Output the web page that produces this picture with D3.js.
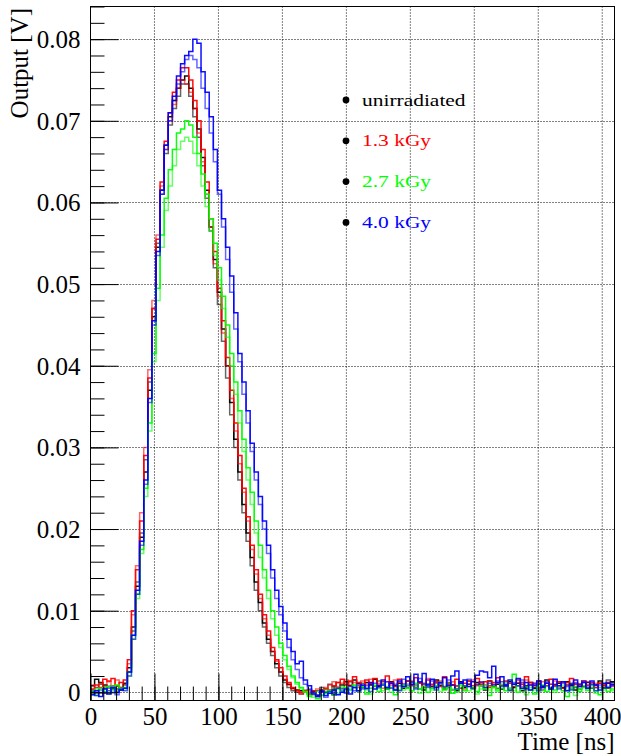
<!DOCTYPE html>
<html>
<head>
<meta charset="utf-8">
<script src="https://cdn.jsdelivr.net/npm/d3@7/dist/d3.min.js"></script>
<style>
  body { margin: 0; background: #fff; }
  svg { display: block; }
  text { font-family: "Liberation Serif", "Times New Roman", serif; fill: #000; }
</style>
</head>
<body>
<svg id="chart" width="621" height="756"></svg>
<script>
// bin width in ns, values in mV (two waveforms per dose)
var binWidth = 3.2;

var unirrA = [0.8, 1.6, 1.2, 0.9, 0.7, 0.4, 0.8, 0.3, 1.1,
  3.0, 8.0, 13.0, 19.0, 27.0, 37.0, 46.0, 54.5, 61.5, 67.0, 70.5, 72.5, 74.0, 75.0, 75.5, 74.0, 71.5, 69.0, 65.5, 61.5,
  57.0, 53.0, 49.0, 44.5, 40.0, 35.5, 31.0, 27.0, 23.0, 19.5, 16.5, 13.5, 11.0, 8.5, 6.5, 5.0, 3.5, 2.5, 1.5, 1.0, 0.5, 0.3, 0.2, 0.1,
  -0.2, 0.1, -0.4, 0.3, 0.0, 0.2, -0.3, 0.5, 0.9, 1.3, 0.8, 1.5, 1.1, 0.6, 1.2, 0.9, 1.6, 0.7, 1.0, 0.4,
  1.3, 0.8, 1.1, 0.5, 1.4, 0.9, 0.6, 1.2, 0.3, 1.0, 0.7, 1.5, 0.8, 0.4, 1.1, 0.9, 0.2, 1.3, 0.6, 1.0,
  0.5, 1.2, 0.8, 0.3, 1.4, 0.7, 1.0, 0.4, 0.9, 1.3, 0.6, 1.1, 0.2, 0.8, 1.2, 0.5, 1.0, 0.7, 1.5, 0.4,
  0.9, 1.1, 0.6, 1.3, 0.8, 0.3, 1.0, 0.7, 1.2, 0.5, 0.9, 1.4, 0.6, 1.1, 1.3];
var unirrB = [0.3, 0.6, 1.0, 0.5, 0.2, 0.8, 0.4, 0.6, 0.9,
  2.5, 7.5, 13.5, 19.5, 28.5, 38.0, 47.0, 55.0, 61.0, 66.0, 69.5, 71.5, 73.0, 74.5, 74.5, 73.0, 70.5, 68.0, 64.5, 60.5,
  56.5, 52.0, 47.5, 43.0, 38.5, 34.0, 30.0, 26.0, 22.0, 18.5, 15.5, 12.5, 10.0, 8.0, 6.0, 4.5, 3.0, 2.0, 1.2, 0.6, 0.2, 0.0, -0.2, 0.1,
  0.3, -0.1, 0.2, 0.6, 0.4, 1.0, 0.7, 1.2, 0.5, 0.9, 1.3, 0.6, 0.8, 1.1, 0.4, 1.0, 0.7, 1.4, 0.9, 0.5,
  1.2, 0.3, 0.8, 1.0, 0.6, 1.3, 0.9, 0.4, 1.1, 0.7, 0.5, 1.2, 0.9, 0.6, 1.0, 0.3, 0.8, 1.1, 0.7, 1.4,
  0.4, 0.9, 1.2, 0.6, 0.8, 1.0, 0.5, 1.3, 0.7, 0.2, 1.0, 0.8, 1.2, 0.5, 0.9, 0.6, 1.1, 0.3, 0.8, 1.0,
  0.7, 1.3, 0.5, 0.9, 1.1, 0.6, 0.4, 1.2, 0.8, 1.0, 0.6, 1.1, 0.9, 1.5, 1.2];
var dose13A = [0.4, 0.9, 0.6, 1.6, 1.4, 1.7, 0.8, 1.2, 1.5,
  4.0, 10.0, 15.0, 21.0, 29.0, 38.5, 47.0, 55.5, 62.5, 67.5, 71.0, 73.5, 75.0, 76.5, 76.5, 75.0, 72.5, 70.0, 66.5, 62.5,
  58.0, 54.0, 49.5, 45.5, 41.0, 37.0, 33.0, 29.0, 25.0, 21.5, 18.0, 15.0, 12.0, 9.5, 7.5, 5.5, 4.0, 3.0, 2.0, 1.2, 0.6, 0.3, 0.0, 0.2,
  -0.3, 0.2, -0.5, 0.1, 0.4, 0.3, 0.8, 1.2, 1.6, 1.0, 1.4, 1.9, 1.2, 0.8, 1.5, 1.1, 1.7, 0.9, 1.3, 2.0,
  1.2, 0.7, 1.6, 1.0, 1.4, 0.8, 1.8, 1.1, 0.6, 1.5, 1.0, 1.3, 0.7, 1.9, 1.2, 0.9, 1.6, 0.5, 1.1, 1.4,
  0.8, 1.7, 1.0, 1.3, 0.6, 1.2, 1.8, 0.9, 1.4, 1.1, 0.7, 1.5, 1.0, 1.9, 1.2, 0.8, 1.4, 0.6, 1.1, 1.6,
  0.9, 1.3, 0.5, 1.2, 1.7, 1.0, 0.7, 1.4, 0.9, 1.2, 0.6, 1.1, 0.8, 0.5, 0.9];
var dose13B = [0.9, 0.2, 1.1, 0.7, 1.3, 0.8, 1.5, 0.6, 1.0,
  3.5, 9.5, 15.5, 22.0, 30.0, 39.5, 48.0, 56.0, 62.0, 66.5, 70.0, 72.0, 74.0, 75.0, 74.5, 73.5, 71.5, 68.5, 65.0, 61.0,
  57.0, 52.5, 48.5, 44.0, 40.0, 36.0, 32.0, 28.0, 24.5, 21.0, 17.5, 14.5, 11.5, 9.0, 7.0, 5.0, 3.8, 2.5, 1.6, 0.9, 0.4, 0.1, -0.2, 0.3,
  0.1, -0.3, 0.4, 0.0, 0.6, 0.9, 1.3, 0.7, 1.1, 1.5, 0.9, 1.2, 0.6, 1.4, 1.0, 1.6, 0.8, 1.1, 0.5, 1.3,
  0.9, 1.5, 1.2, 0.7, 1.0, 1.4, 0.6, 1.2, 0.9, 1.7, 0.8, 1.1, 1.4, 0.6, 1.0, 1.3, 0.7, 1.2, 0.4, 1.0,
  1.5, 0.8, 1.2, 0.9, 1.4, 0.6, 1.1, 0.8, 1.3, 0.5, 1.0, 1.2, 0.7, 1.5, 0.9, 1.1, 0.4, 1.3, 0.8, 1.0,
  1.4, 0.6, 1.1, 0.9, 0.5, 1.2, 1.0, 0.7, 1.3, 0.8, 1.1, 0.6, 1.0, 1.2, 0.7];
var dose27A = [0.2, -0.4, 0.5, 0.1, 0.7, 0.3, 0.9, 0.4, 0.6,
  2.5, 7.0, 12.0, 17.5, 25.0, 33.0, 41.5, 49.5, 56.0, 60.5, 64.0, 66.5, 68.5, 69.0, 70.0, 69.5, 68.0, 66.0, 63.5, 61.0,
  58.0, 55.0, 52.0, 48.5, 45.0, 41.5, 38.0, 34.5, 31.0, 27.5, 24.5, 21.0, 18.0, 15.0, 12.5, 10.0, 8.0, 6.0, 4.5, 3.2, 2.0, 1.2, 0.6, 0.1,
  -0.5, -0.2, -0.8, -0.4, -0.1, 0.2, -0.3, 0.4, 0.1, 0.6, 0.3, 0.9, 0.2, 0.7, -0.2, 0.5, 0.8, 0.1, 1.0, 0.4,
  0.6, -0.3, 0.3, 0.9, 0.5, 0.2, 1.1, 0.4, 0.7, 0.0, 0.5, 0.8, 1.2, 0.3, 0.6, -0.1, 0.4, 0.9, 0.2, 0.7,
  0.5, 0.1, 0.8, 0.4, -0.4, 0.6, 0.3, 1.0, 0.2, 0.5, 2.2, 0.0, 0.4, 0.7, 0.3, -0.2, 0.6, 0.9, 0.1, 0.5,
  0.3, 0.8, 0.2, -0.5, 0.4, 0.7, 0.1, 0.6, 0.3, 0.9, 0.2, -0.3, 0.5, 0.1, 0.4];
var dose27B = [-0.3, 0.4, 0.0, 0.6, -0.2, 0.8, 0.2, 0.5, 0.3,
  2.0, 6.5, 11.5, 17.0, 24.0, 32.0, 40.5, 48.0, 54.5, 59.0, 62.0, 64.5, 66.5, 67.5, 68.0, 67.5, 66.0, 64.5, 62.0, 59.5,
  56.5, 53.5, 50.5, 47.0, 43.5, 40.0, 36.5, 33.0, 29.5, 26.0, 23.0, 19.5, 16.5, 14.0, 11.5, 9.0, 7.0, 5.5, 4.0, 2.8, 1.8, 1.0, 0.4, 0.0,
  -0.2, -0.6, 0.1, -0.3, 0.3, 0.0, 0.5, -0.1, 0.7, 0.2, 0.4, 0.8, 0.1, 0.6, 0.3, -0.2, 0.9, 0.5, 0.2, 0.7,
  0.0, 0.4, 0.8, 0.3, 1.0, 0.2, 0.6, -0.1, 0.5, 0.9, 0.3, 0.7, 0.1, 0.5, 1.1, 0.4, 0.0, 0.6, 0.8, 0.2,
  0.6, -0.2, 0.4, 0.9, 0.3, 0.7, 0.1, 0.5, 1.2, 0.4, 0.2, 0.8, 0.5, -0.3, 0.6, 0.3, 1.0, 0.2, 0.7, 0.4,
  0.0, 0.5, 0.9, 0.3, 0.6, -0.4, 0.4, 0.8, 0.2, 0.5, -0.1, 0.6, 0.3, 0.7, 0.2];
var dose40A = [-0.3, 0.2, -0.5, 0.4, -0.2, 0.6, 0.0, 0.3, 0.5,
  2.5, 7.0, 12.5, 18.5, 26.0, 36.0, 45.5, 54.0, 61.5, 67.0, 71.0, 73.0, 75.5, 77.0, 78.0, 78.5, 80.0, 79.5, 76.0, 73.5,
  70.5, 66.5, 61.5, 58.0, 54.5, 51.0, 46.5, 41.5, 38.0, 34.5, 30.5, 27.0, 24.0, 21.0, 18.0, 15.0, 12.5, 10.5, 8.5, 6.5, 5.0, 3.5, 3.8, 1.5,
  0.8, -0.2, -0.5, 0.1, -0.4, -0.1, 0.3, -0.3, 0.0, 0.4, -0.2, 0.6, 0.2, 0.9, 0.5, 1.2, 0.4, 0.8,
  1.5, 0.6, 1.1, 0.3, 1.4, 0.7, 1.9, 1.0, 2.2, 1.3, 2.3, 0.9, 1.6, 0.6, 1.2, 1.8, 0.8, 2.0, 2.6, 1.1,
  1.5, 0.7, 1.3, 2.1, 2.6, 2.5, 1.8, 3.2, 1.2, 1.9, 0.8, 1.5, 1.0, 1.7, 0.5, 1.2, 0.3, 0.9, 1.4, 0.6,
  1.1, 0.4, 1.6, 0.8, 1.3, 0.2, 1.0, 1.5, 0.7, 1.2, 0.5, 1.4, 0.9, 0.3, 1.1, 0.6, 1.0];
var dose40B = [0.1, -0.4, 0.3, -0.1, 0.5, 0.0, -0.3, 0.4, 0.2,
  2.0, 6.5, 12.0, 18.0, 25.5, 35.5, 45.0, 53.5, 61.0, 66.5, 70.0, 72.5, 74.5, 76.0, 77.5, 78.0, 77.5, 76.5, 74.0, 71.5,
  68.5, 65.0, 61.0, 57.0, 53.0, 49.0, 44.5, 40.5, 36.5, 33.0, 29.5, 26.0, 23.0, 20.0, 17.0, 14.0, 11.5, 9.5, 7.5, 5.5, 4.0, 2.8, 1.8, 1.0,
  0.4, 0.0, -0.3, 0.2, -0.6, 0.1, -0.2, 0.5, 0.3, -0.1, 0.7, 0.2, 1.0, 0.4, 0.8, 0.1, 1.1, 0.6,
  0.9, 1.3, 0.5, 1.0, 0.2, 1.6, 0.8, 1.2, 0.4, 1.7, 1.0, 0.6, 1.4, 0.3, 1.1, 0.7, 1.5, 0.9, 0.4, 1.2,
  0.8, 1.6, 0.5, 1.0, 1.3, 0.6, 1.1, 0.9, 1.4, 0.7, 1.0, 0.3, 1.2, 0.8, 1.5, 0.4, 0.9, 1.1, 0.2, 0.8,
  1.3, 0.6, 1.0, 0.4, 1.2, 0.7, 0.3, 1.1, 0.8, 1.4, 0.6, 1.0, 0.2, 0.9, 0.5, 1.2, 0.8];

var legendLabels = ["unirradiated", "1.3 kGy", "2.7 kGy", "4.0 kGy"];
var seriesColors = ["#000000", "#ff0000", "#00ff00", "#0000ff"];
var seriesData = [[unirrA, unirrB], [dose13A, dose13B], [dose27A, dose27B], [dose40A, dose40B]];

var xTicks = [0, 50, 100, 150, 200, 250, 300, 350, 400];
var yTicks = [0, 0.01, 0.02, 0.03, 0.04, 0.05, 0.06, 0.07, 0.08];
var yTickLabels = ["0", "0.01", "0.02", "0.03", "0.04", "0.05", "0.06", "0.07", "0.08"];

var serif = '"Liberation Serif", "Times New Roman", serif';
var svg = d3.select('#chart');
var frameL = 90.5, frameR = 614.5, frameT = 6.5, frameB = 700.5;

var x = d3.scaleLinear().domain([0, 409.6]).range([frameL, frameR]);
var y = d3.scaleLinear().domain([-0.001, 0.084]).range([frameB, frameT]);

svg.append('rect').attr('width', 621).attr('height', 756).attr('fill', '#fff');

svg.append('clipPath').attr('id', 'plotclip')
  .append('rect')
  .attr('x', frameL).attr('y', frameT)
  .attr('width', frameR - frameL).attr('height', frameB - frameT);

// grid
var grid = svg.append('g').attr('class', 'grid');
grid.selectAll('.vgrid')
  .data(xTicks.filter(function(d){ return d > 0; })).enter()
  .append('line')
  .attr('x1', function(d){ return x(d); }).attr('x2', function(d){ return x(d); })
  .attr('y1', frameT).attr('y2', frameB)
  .style('stroke', '#000').style('stroke-width', 1).style('stroke-dasharray', '1,2');
grid.selectAll('.hgrid')
  .data(yTicks).enter()
  .append('line')
  .attr('x1', frameL).attr('x2', frameR)
  .attr('y1', function(d){ return Math.round(y(d)) + 0.5; })
  .attr('y2', function(d){ return Math.round(y(d)) + 0.5; })
  .style('stroke', '#000').style('stroke-width', 1).style('stroke-dasharray', '1,2');

// histograms
var line = d3.line()
  .x(function(d){ return x(d[0]); })
  .y(function(d){ return y(d[1] / 1000); })
  .curve(d3.curveStepAfter);

function steps(vals) {
  var pts = vals.map(function(v, i){ return [i * binWidth, v]; });
  pts.push([vals.length * binWidth, vals[vals.length - 1]]);
  return pts;
}

var hists = svg.append('g').attr('clip-path', 'url(#plotclip)');
seriesData.forEach(function(pair, k) {
  pair.forEach(function(vals, j) {
    hists.append('path')
      .attr('d', line(steps(vals)))
      .style('fill', 'none')
      .style('stroke', seriesColors[k])
      .style('stroke-width', 1.5)
      .style('opacity', j == 0 ? 0.95 : 0.6);
  });
});

// axes, ticks inside like ROOT
var yMinor = d3.range(0, 0.0845, 0.002);
var xMinor = d3.range(0, 410, 10);

svg.append('g').attr('transform', 'translate(' + frameL + ',0)')
  .call(d3.axisLeft(y).tickValues(yMinor).tickSizeInner(-14).tickSizeOuter(0).tickFormat(''));
svg.append('g').attr('transform', 'translate(0,' + frameB + ')')
  .call(d3.axisBottom(x).tickValues(xMinor).tickSizeInner(-14).tickSizeOuter(0).tickFormat(''));

var yAxis = svg.append('g').attr('transform', 'translate(' + frameL + ',0)')
  .call(d3.axisLeft(y).tickValues(yTicks).tickSizeInner(-28).tickSizeOuter(0).tickPadding(10)
    .tickFormat(function(d, i){ return yTickLabels[i]; }));
var xAxis = svg.append('g').attr('transform', 'translate(0,' + frameB + ')')
  .call(d3.axisBottom(x).tickValues(xTicks).tickSizeInner(-27).tickSizeOuter(0));

svg.selectAll('.tick line').style('stroke', '#000');
svg.selectAll('.domain').remove();
yAxis.attr('font-family', serif);
xAxis.attr('font-family', serif);
yAxis.selectAll('text').style('font-family', serif).style('font-size', '25px').attr('dy', '0.34em');
xAxis.selectAll('text').style('font-family', serif).style('font-size', '25px').attr('y', 24.5).attr('dy', 0);

// frame
svg.append('rect')
  .attr('x', frameL).attr('y', frameT)
  .attr('width', frameR - frameL).attr('height', frameB - frameT)
  .style('fill', 'none').style('stroke', '#000').style('stroke-width', 1);

// titles
svg.append('text')
  .attr('x', frameR).attr('y', 750)
  .attr('text-anchor', 'end')
  .style('font-size', '25px')
  .text('Time [ns]');
svg.append('text')
  .attr('transform', 'translate(28,8) rotate(-90)')
  .attr('text-anchor', 'end')
  .style('font-size', '25px')
  .text('Output [V]');

// legend
var legend = svg.append('g').selectAll('.entry')
  .data(legendLabels).enter()
  .append('g').attr('class', 'entry')
  .attr('transform', function(d, i){ return 'translate(346,' + (100 + i * 40.8) + ')'; });
legend.append('circle').attr('r', 3.4).style('fill', '#000');
legend.append('text')
  .attr('transform', 'translate(16,5.5) scale(1.3,1)')
  .style('font-size', '16.5px')
  .style('fill', function(d, i){ return seriesColors[i]; })
  .text(function(d){ return d; });
</script>
</body>
</html>
